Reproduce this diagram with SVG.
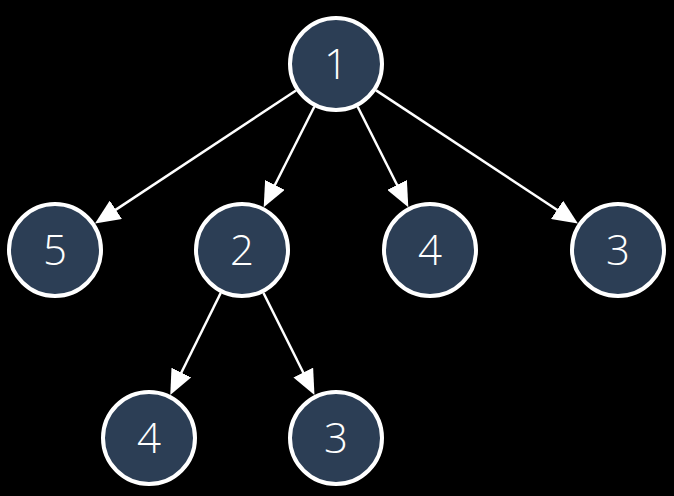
<svg xmlns="http://www.w3.org/2000/svg" width="674" height="496" viewBox="0 0 674 496">
<style>
.node circle{fill:#2c3e55;stroke:#ffffff;stroke-width:4}
.node text{fill:#ffffff;font-family:"Open Sans","Liberation Sans",sans-serif;font-size:42px;font-weight:300;text-anchor:middle}
.edge{stroke:#ffffff;stroke-width:2.5;fill:none;marker-end:url(#arrow)}
</style>
<defs>
<marker id="arrow" markerUnits="userSpaceOnUse" viewBox="0 0 25 22" markerWidth="25" markerHeight="22" refX="13" refY="11" orient="auto">
<path d="M0,0 L25,11 L0,22 z" fill="#ffffff"/>
</marker>
</defs>
<rect width="674" height="496" fill="#000000"/>
<g id="connectors">
<line class="edge" x1="296.0" y1="90.5" x2="105.0" y2="216.9"/>
<line class="edge" x1="314.3" y1="106.8" x2="269.1" y2="196.5"/>
<line class="edge" x1="357.7" y1="106.8" x2="402.9" y2="196.5"/>
<line class="edge" x1="376.1" y1="90.4" x2="567.9" y2="217.0"/>
<line class="edge" x1="220.7" y1="293.0" x2="175.6" y2="384.2"/>
<line class="edge" x1="263.5" y1="293.0" x2="309.1" y2="384.2"/>
</g>
<g id="n1" class="node"><circle cx="336" cy="64" r="46"/><text x="336" y="79">1</text></g>
<g id="n5" class="node"><circle cx="55" cy="250" r="46"/><text x="55" y="265">5</text></g>
<g id="n2" class="node"><circle cx="242" cy="250" r="46"/><text x="242" y="265">2</text></g>
<g id="n4" class="node"><circle cx="430" cy="250" r="46"/><text x="430" y="265">4</text></g>
<g id="n3" class="node"><circle cx="618" cy="250" r="46"/><text x="618" y="265">3</text></g>
<g id="n4b" class="node"><circle cx="149" cy="438" r="46"/><text x="149" y="453">4</text></g>
<g id="n3b" class="node"><circle cx="336" cy="438" r="46"/><text x="336" y="453">3</text></g>
</svg>
